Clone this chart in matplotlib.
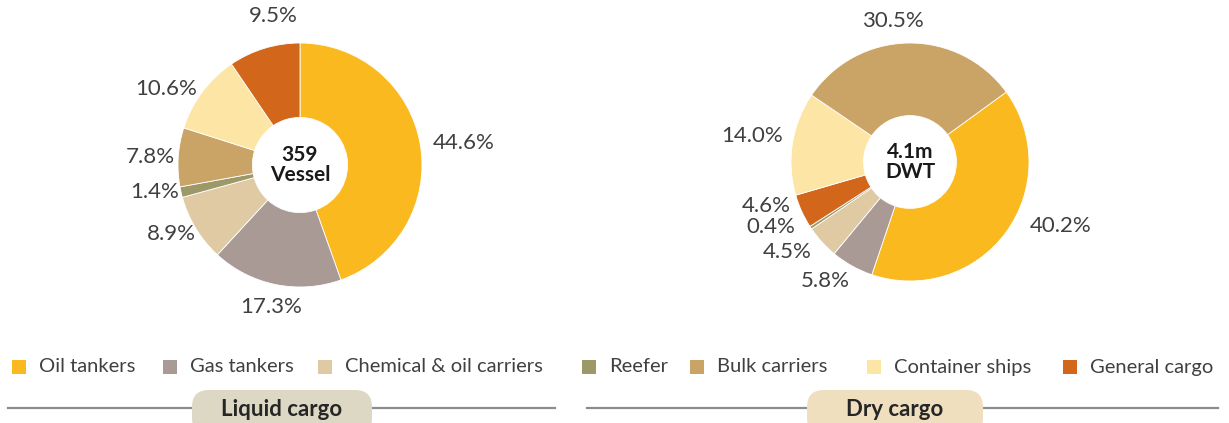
import numpy as np
import matplotlib
matplotlib.use("Agg")
import matplotlib.pyplot as plt
from matplotlib.patches import Rectangle, FancyBboxPatch
from matplotlib.lines import Line2D

plt.rcParams['font.family'] = ['Lato', 'DejaVu Sans']

# ---- data ----
categories = ["Oil tankers", "Gas tankers", "Chemical & oil carriers", "Reefer",
              "Bulk carriers", "Container ships", "General cargo"]
colors = {
    "Oil tankers": "#fbb920",
    "Gas tankers": "#a99a95",
    "Chemical & oil carriers": "#dfcaa3",
    "Reefer": "#9c9868",
    "Bulk carriers": "#c9a466",
    "Container ships": "#fde5a6",
    "General cargo": "#d2661b",
}

liquid_order = ["Oil tankers", "Gas tankers", "Chemical & oil carriers", "Reefer",
                "Bulk carriers", "Container ships", "General cargo"]
liquid_share = [44.6, 17.3, 8.9, 1.4, 7.8, 10.6, 9.5]
liquid_center = "359\nVessel"

dry_order = ["Oil tankers", "Gas tankers", "Chemical & oil carriers", "Reefer",
             "General cargo", "Container ships", "Bulk carriers"]
dry_share = [40.2, 5.8, 4.5, 0.4, 4.6, 14.0, 30.5]
dry_center = "4.1m\nDWT"

W, H = 1229, 423
fig = plt.figure(figsize=(W / 100, H / 100), dpi=100)
fig.patch.set_facecolor("white")

TXT = "#404040"
SPAN = 1.7


def donut(cx, cy, R, values, order, start, center_text, label_r, nudges):
    s = SPAN * R
    ax = fig.add_axes([(cx - s) / W, (H - cy - s) / H, 2 * s / W, 2 * s / H])
    wedges, _ = ax.pie(values, colors=[colors[c] for c in order], startangle=start,
                       counterclock=False, radius=1.0,
                       wedgeprops=dict(width=0.61, edgecolor="white", linewidth=0.6))
    ax.set_xlim(-SPAN, SPAN)
    ax.set_ylim(-SPAN, SPAN)
    ax.set_aspect("equal")
    ax.axis("off")
    for w, v, (dx, dy) in zip(wedges, values, nudges):
        ang = np.deg2rad((w.theta1 + w.theta2) / 2)
        c, sn = np.cos(ang), np.sin(ang)
        x, y = label_r * c, label_r * sn
        if abs(sn) > 0.93:
            ha = "center"
            va = "bottom" if sn > 0 else "top"
        else:
            ha = "left" if c > 0 else "right"
            va = "center"
        ax.text(x + dx, y + dy, f"{v:.1f}%", ha=ha, va=va, fontsize=16, color=TXT)
    ax.text(0, 0, center_text, ha="center", va="center", fontsize=15,
            fontweight="bold", color="#1a1a1a", linespacing=1.0)
    return ax


donut(300, 165, 122, liquid_share, liquid_order, 90, liquid_center, 1.08,
      [(0.02, 0.0), (-0.02, -0.02), (0.07, 0.0), (0.06, 0.02), (0.05, 0.0), (0.02, -0.02), (0.1, 0.11)])
donut(910, 162, 119, dry_share, dry_order, 36, dry_center, 1.08,
      [(0.14, 0.1), (0.02, -0.06), (-0.03, -0.03), (-0.06, 0.05), (-0.02, 0.08), (0.0, 0.05), (-0.13, 0.02)])

# ---- legend row ----
overlay = fig.add_axes([0, 0, 1, 1])
overlay.set_xlim(0, W)
overlay.set_ylim(H, 0)
overlay.axis("off")

legend_x = [12, 163, 318, 582, 690, 867, 1063]
legend_y = 367
for name, x in zip(categories, legend_x):
    overlay.add_patch(Rectangle((x, legend_y - 7), 14, 14, facecolor=colors[name],
                                edgecolor="none"))
    overlay.text(x + 27, legend_y, name, ha="left", va="center", fontsize=14.5, color=TXT)

# ---- group captions ----
groups = [("Liquid cargo", 8, 555, 282, 180, "#dcd8c4"),
          ("Dry cargo", 587, 1218, 895, 176, "#efdfbf")]
line_y = 408
for label, x0, x1, xc, bw, fc in groups:
    overlay.add_line(Line2D([x0, x1], [line_y, line_y], color="#8c8c8c", lw=1.6))
    overlay.add_patch(FancyBboxPatch((xc - bw / 2, 390), bw, 45,
                                     boxstyle="round,pad=0,rounding_size=17",
                                     facecolor=fc, edgecolor="none", zorder=3))
    overlay.text(xc, 409, label, ha="center", va="center", fontsize=16,
                 fontweight="bold", color="#262626", zorder=4)

fig.savefig("out.png", dpi=100, facecolor="white")
